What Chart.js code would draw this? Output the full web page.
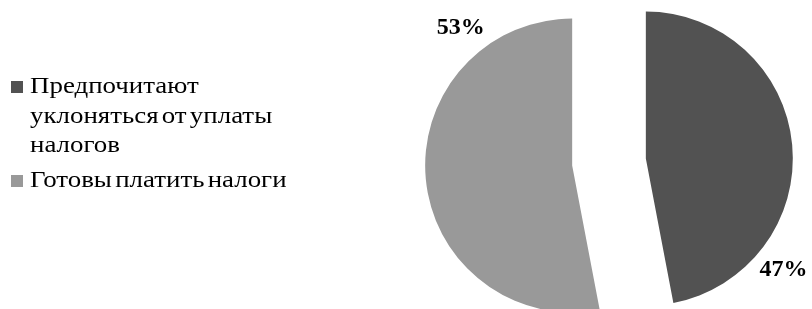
<!DOCTYPE html>
<html>
<head>
<meta charset="utf-8">
<script src="https://cdn.jsdelivr.net/npm/chart.js@4/dist/chart.umd.min.js"></script>
<style>
	html, body { margin: 0; padding: 0; background: #fff; }
	#wrap { position: relative; width: 812px; height: 309px; overflow: hidden; }
	#legend {
		position: absolute; left: 11px; top: 71px;
		font-family: 'Liberation Serif', 'Times New Roman', serif;
		font-size: 23px; line-height: 29.5px; color: #000;
		word-spacing: -3px;
	}
	#legend .item { position: relative; padding-left: 19px; margin-bottom: 5.5px; }
	#legend .txt { display: inline-block; white-space: pre; transform: scaleX(1.17); transform-origin: left top; }
	#legend .box { position: absolute; left: 0; top: 10px; width: 12px; height: 12px; }
</style>
</head>
<body>
<div id="wrap">
	<canvas id="chart" width="812" height="309"></canvas>
	<div id="legend"></div>
</div>
<script>
'use strict';

let labels = ['Предпочитают\nуклоняться от уплаты\nналогов', 'Готовы платить налоги'];
let values = [47, 53];
let colors = ['#525252', '#999999'];

// where the percent labels sit round each slice (degrees, chart angles)
let labelAngles = [39, 231];
let labelDist = 177;
let shift = 37;

function sliceCenter(arc) {
	let mid = (arc.startAngle + arc.endAngle) / 2;
	return [arc.x + Math.cos(mid) * shift, arc.y + Math.sin(mid) * shift];
}

// pulls both slices apart by the same distance, radius stays as set
let explode = {
	id: 'explode',
	beforeDatasetsDraw(chart) {
		let ctx = chart.ctx;
		chart.getDatasetMeta(0).data.forEach(arc => {
			let [cx, cy] = sliceCenter(arc);
			ctx.save();
			ctx.translate(cx - arc.x, cy - arc.y);
			arc.draw(ctx, chart.chartArea);
			ctx.restore();
		});
		return false;
	}
};

let percentLabels = {
	id: 'percentLabels',
	afterDraw(chart) {
		let ctx = chart.ctx;
		let total = values.reduce((a, b) => a + b, 0);
		ctx.save();
		ctx.font = 'bold 24px "Liberation Serif", serif';
		ctx.fillStyle = '#000';
		ctx.textAlign = 'center';
		ctx.textBaseline = 'middle';
		chart.getDatasetMeta(0).data.forEach((arc, ix) => {
			let [cx, cy] = sliceCenter(arc);
			let a = labelAngles[ix] * Math.PI / 180;
			let txt = Math.round(values[ix] / total * 100) + '%';
			ctx.fillText(txt, cx + Math.cos(a) * labelDist, cy + Math.sin(a) * labelDist);
		});
		ctx.restore();
	}
};

new Chart(document.getElementById('chart'), {
	type: 'pie',
	data: {
		labels: labels,
		datasets: [{
			data: values,
			backgroundColor: colors,
			borderWidth: 0,
		}]
	},
	plugins: [explode, percentLabels],
	options: {
		responsive: false,
		animation: false,
		radius: 147,
		layout: { padding: { left: 406, right: 0, top: 15, bottom: 0 } },
		plugins: {
			legend: { display: false },
			tooltip: { enabled: false },
		},
	},
});

let legend = document.getElementById('legend');
labels.forEach((label, ix) => {
	let item = document.createElement('div');
	item.className = 'item';
	let box = document.createElement('span');
	box.className = 'box';
	box.style.background = colors[ix];
	let txt = document.createElement('span');
	txt.className = 'txt';
	txt.textContent = label;
	item.appendChild(box);
	item.appendChild(txt);
	legend.appendChild(item);
});
</script>
</body>
</html>
